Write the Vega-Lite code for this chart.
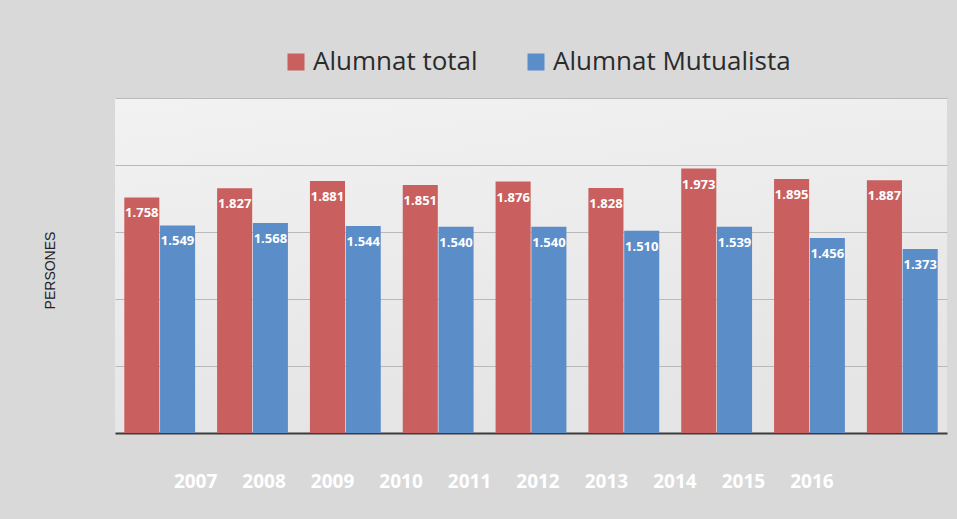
{
  "$schema": "https://vega.github.io/schema/vega-lite/v6.json",
  "width": 832,
  "height": 335,
  "autosize": {"type": "none"},
  "padding": {"left": 115, "top": 98, "right": 10, "bottom": 86},
  "background": "#d9d9d9",
  "config": {
    "locale": {"number": {"decimal": ",", "thousands": ".", "grouping": [3], "currency": ["", " €"]}},
    "view": {"stroke": null, "fill": {"gradient": "linear", "x1": 0, "y1": 0, "x2": 0.3, "y2": 1, "stops": [{"offset": 0, "color": "#f2f2f2"}, {"offset": 1, "color": "#e5e5e5"}]}}
  },
  "layer": [
    {
      "data": {"values": [
        {"curs": "2007", "serie": "Alumnat total", "valor": 1758},
        {"curs": "2007", "serie": "Alumnat Mutualista", "valor": 1549},
        {"curs": "2008", "serie": "Alumnat total", "valor": 1827},
        {"curs": "2008", "serie": "Alumnat Mutualista", "valor": 1568},
        {"curs": "2009", "serie": "Alumnat total", "valor": 1881},
        {"curs": "2009", "serie": "Alumnat Mutualista", "valor": 1544},
        {"curs": "2010", "serie": "Alumnat total", "valor": 1851},
        {"curs": "2010", "serie": "Alumnat Mutualista", "valor": 1540},
        {"curs": "2011", "serie": "Alumnat total", "valor": 1876},
        {"curs": "2011", "serie": "Alumnat Mutualista", "valor": 1540},
        {"curs": "2012", "serie": "Alumnat total", "valor": 1828},
        {"curs": "2012", "serie": "Alumnat Mutualista", "valor": 1510},
        {"curs": "2013", "serie": "Alumnat total", "valor": 1973},
        {"curs": "2013", "serie": "Alumnat Mutualista", "valor": 1539},
        {"curs": "2014", "serie": "Alumnat total", "valor": 1895},
        {"curs": "2014", "serie": "Alumnat Mutualista", "valor": 1456},
        {"curs": "2015", "serie": "Alumnat total", "valor": 1887},
        {"curs": "2015", "serie": "Alumnat Mutualista", "valor": 1373}
      ]},
      "encoding": {
        "x": {"field": "curs", "type": "nominal", "axis": null, "scale": {"paddingInner": 0.237, "paddingOuter": 0.1}},
        "xOffset": {"field": "serie", "type": "nominal", "sort": ["Alumnat total", "Alumnat Mutualista"], "scale": {"paddingInner": 0.02}},
        "y": {
          "field": "valor", "type": "quantitative",
          "scale": {"domain": [0, 2500], "nice": false},
          "axis": {
            "title": "PERSONES", "titleFont": "Liberation Sans", "titleFontSize": 14, "titleFontWeight": "normal", "titleColor": "#222222",
            "titleAngle": -90, "titleX": -65, "titleY": 172, "titleAlign": "center", "titleBaseline": "middle",
            "labels": false, "ticks": false, "domain": false,
            "values": [0, 500, 1000, 1500, 2000, 2500],
            "gridColor": {"condition": {"test": "datum.value === 0", "value": "#3c3c3c"}, "value": "#b9b9b9"},
            "gridWidth": {"condition": {"test": "datum.value === 0", "value": 2}, "value": 1}
          }
        }
      },
      "layer": [
        {
          "mark": {"type": "bar"},
          "encoding": {
            "color": {
              "field": "serie", "type": "nominal",
              "scale": {"domain": ["Alumnat total", "Alumnat Mutualista"], "range": ["#c95f5e", "#5b8dc8"]},
              "legend": {
                "title": null, "orient": "none", "direction": "horizontal", "legendX": 168, "legendY": -49,
                "symbolType": "square", "symbolSize": 289, "symbolStrokeWidth": 0, "symbolOpacity": 1,
                "labelFontSize": 26, "labelFont": "Open Sans", "labelColor": "#2b2b2b",
                "columnPadding": 45, "labelOffset": 4, "labelLimit": 400
              }
            }
          }
        },
        {
          "mark": {"type": "text", "dy": 16, "baseline": "middle", "color": "white", "font": "Open Sans", "fontWeight": "bold", "fontSize": 13},
          "encoding": {"text": {"field": "valor", "type": "quantitative", "format": ",d"}}
        }
      ]
    },
    {
      "data": {"values": [
        {"any": 2007}, {"any": 2008}, {"any": 2009}, {"any": 2010}, {"any": 2011},
        {"any": 2012}, {"any": 2013}, {"any": 2014}, {"any": 2015}, {"any": 2016}
      ]},
      "mark": {"type": "text", "text": "", "opacity": 0},
      "encoding": {
        "x": {
          "field": "any", "type": "quantitative",
          "scale": {"domain": [2005.83, 2017.98], "nice": false, "zero": false},
          "axis": {
            "title": null, "values": [2007, 2008, 2009, 2010, 2011, 2012, 2013, 2014, 2015, 2016], "format": "d",
            "labelColor": "#ffffff", "labelFont": "Open Sans", "labelFontWeight": "bold", "labelFontSize": 19,
            "labelPadding": 39, "domain": false, "ticks": false, "grid": false
          }
        }
      }
    }
  ],
  "resolve": {"scale": {"x": "independent"}, "axis": {"x": "independent"}}
}
